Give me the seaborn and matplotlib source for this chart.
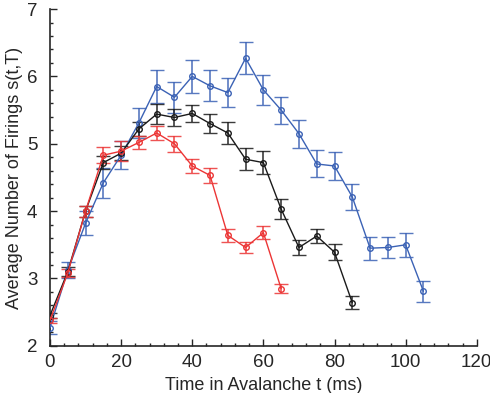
import numpy as np
import pandas as pd
import matplotlib
matplotlib.use("Agg")
import matplotlib.pyplot as plt
from matplotlib.ticker import MultipleLocator
import seaborn as sns

# =====================================================
# DATA
# =====================================================

t_blue = [0, 5, 10, 15, 20, 25, 30, 35, 40, 45, 50, 55, 60, 65, 70, 75, 80, 85, 90, 95, 100, 105]
s_blue = [2.27, 3.12, 3.82, 4.42, 4.83, 5.31, 5.85, 5.69, 6.00, 5.86, 5.76, 6.27, 5.80, 5.50,
          5.15, 4.70, 4.67, 4.21, 3.45, 3.46, 3.50, 2.81]
e_blue = [0.10, 0.12, 0.18, 0.22, 0.21, 0.22, 0.25, 0.23, 0.25, 0.23, 0.22, 0.24, 0.22, 0.20,
          0.21, 0.20, 0.21, 0.19, 0.17, 0.16, 0.18, 0.16]

t_black = [0, 5, 10, 15, 20, 25, 30, 35, 40, 45, 50, 55, 60, 65, 70, 75, 80, 85]
s_black = [2.45, 3.10, 4.00, 4.72, 4.86, 5.22, 5.44, 5.39, 5.45, 5.30, 5.16, 4.77, 4.72, 4.03,
           3.46, 3.63, 3.39, 2.64]
e_black = [0.04, 0.07, 0.08, 0.10, 0.10, 0.10, 0.15, 0.13, 0.13, 0.14, 0.17, 0.16, 0.17, 0.15,
           0.11, 0.11, 0.12, 0.10]

t_red = [0, 5, 10, 15, 20, 25, 30, 35, 40, 45, 50, 55, 60, 65]
s_red = [2.38, 3.08, 4.00, 4.83, 4.89, 5.02, 5.16, 5.00, 4.67, 4.53, 3.64, 3.46, 3.68, 2.85]
e_red = [0.04, 0.06, 0.08, 0.12, 0.15, 0.10, 0.10, 0.12, 0.11, 0.11, 0.10, 0.08, 0.10, 0.07]

series = [
    ("blue", t_blue, s_blue, e_blue, "#3b62b5"),
    ("black", t_black, s_black, e_black, "#1a1a1a"),
    ("red", t_red, s_red, e_red, "#ec3535"),
]

# =====================================================
# PLOT
# =====================================================

sns.set_style("ticks")
plt.rcParams['font.family'] = ['Liberation Sans', 'DejaVu Sans']

fig = plt.figure(figsize=(4.9, 3.93), dpi=100)
ax = fig.add_axes([0.102, 0.12, 0.871, 0.857])

for name, t, s, e, col in series:
    df = pd.DataFrame({"t": t, "s": s})
    ax.errorbar(t, s, yerr=e, fmt="none", ecolor=col, elinewidth=1.2,
                capsize=5, capthick=1.0, alpha=0.85, zorder=2)
    sns.lineplot(data=df, x="t", y="s", ax=ax, color=col, linewidth=1.0,
                 marker="o", markersize=4, markerfacecolor="none",
                 markeredgecolor=col, markeredgewidth=1.0, zorder=3)

ax.set_xlim(0, 120)
ax.set_ylim(2, 7)
ax.xaxis.set_major_locator(MultipleLocator(20))
ax.xaxis.set_minor_locator(MultipleLocator(4))
ax.yaxis.set_major_locator(MultipleLocator(1))
ax.yaxis.set_minor_locator(MultipleLocator(0.2))
ax.tick_params(which="both", direction="in", labelsize=13.5, width=1.0)
ax.tick_params(which="major", length=5)
ax.tick_params(which="minor", length=2.5)
ax.tick_params(axis="x", pad=6)
ax.tick_params(axis="y", pad=9)

ax.set_xlabel("Time in Avalanche t (ms)", fontsize=13, labelpad=4)
ax.set_ylabel("Average Number of Firings s(t,T)", fontsize=13, labelpad=3)

sns.despine(ax=ax)
for sp in ["left", "bottom"]:
    ax.spines[sp].set_linewidth(1.2)

fig.savefig("out.png", dpi=100)
plt.close(fig)
